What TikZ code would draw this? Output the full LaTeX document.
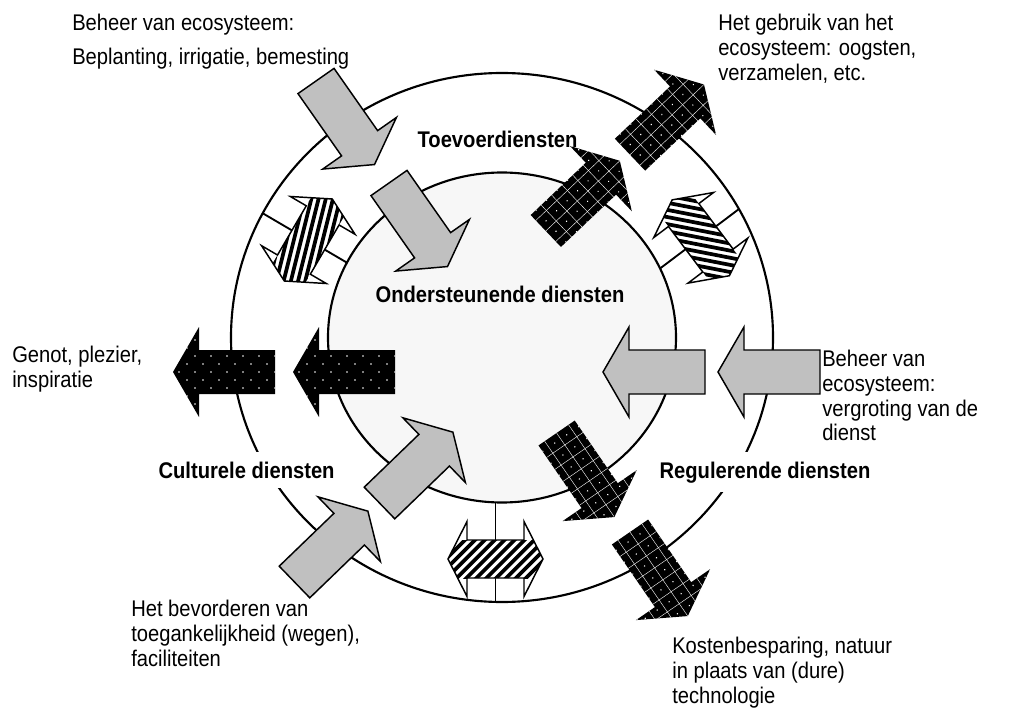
\documentclass[tikz,border=0pt]{standalone}
\usepackage{fontspec}
\setmainfont{Liberation Sans}[FakeStretch=0.89]
\usepackage{tikz}
\usepackage{xcolor}
\definecolor{shade}{RGB}{192,192,192}
\definecolor{core}{RGB}{247,247,247}
\def\arrowpath{(0,-22) -- (76,-22) -- (76,-45) -- (102,0) -- (76,45) -- (76,22) -- (0,22) -- cycle}
\def\swappath{(-47.5,0) -- (-28.5,-37.5) -- (-28.5,-19) -- (28.5,-19) -- (28.5,-37.5) -- (47.5,0) -- (28.5,37.5) -- (28.5,19) -- (-28.5,19) -- (-28.5,37.5) -- cycle}
\tikzset{ring/.style={draw=black, line width=1.6pt},
 link/.style={draw=black, line width=1.4pt},
 note/.style={anchor=north west, inner sep=0pt, align=left, font=\fontsize{17}{18.5}\selectfont},
 title/.style={anchor=base west, inner sep=1pt, font=\fontsize{17}{19}\selectfont\bfseries},
 greyarrow/.pic={\filldraw[fill=shade, draw=black, line width=1.1pt] \arrowpath;},
 dotarrow/.pic={\fill[black] \arrowpath;
   \begin{scope}
   \clip \arrowpath;
   \foreach \y [count=\j] in {-40,-32,...,40}
     \foreach \x in {0,16,...,112}
       \fill[white] ({\x+8*mod(\j,2)},\y) circle (0.8);
   \end{scope}},
 gridarrow/.pic={\fill[black] \arrowpath;
   \begin{scope}
   \clip \arrowpath;
   \foreach \g in {-43.5,-29,...,44} \draw[white, line width=0.3pt] (0,\g) -- (102,\g);
   \foreach \g in {14.5,29,...,99} \draw[white, line width=0.3pt] (\g,-45) -- (\g,45);
   \foreach \x in {7.25,21.75,...,100}
     \foreach \y in {-36.25,-21.75,...,37}
       \fill[white] (\x,\y) circle (0.8);
   \end{scope}},
 pics/swaparrow/.style={code={\fill[white] \swappath;
   \begin{scope}
   \clip \swappath;
   \clip (-50,-19) rectangle (50,19);
   \foreach \s in {-70,-63,...,70}
     \draw[line width=2.8pt, shift={(#1+90:\s)}] (#1:-80) -- (#1:80);
   \end{scope}
   \draw[line width=1.1pt] \swappath;
   \coordinate (-out) at (0,-19);
   \coordinate (-in) at (0,19);}},
 }

\begin{document}
\begin{tikzpicture}[x=0.75pt,y=-0.75pt]
    \useasboundingbox (0,0) rectangle (1010,709);
    \draw[ring, fill=white] (502,337.5) ellipse [x radius=271, y radius=264.5];
    \draw[ring, fill=core] (502,337.5) ellipse [x radius=174, y radius=165];

    \coordinate (rimL-o) at (262.6,213.2);
    \coordinate (rimL-i) at (347,262.7);
    \coordinate (rimR-o) at (739,209);
    \coordinate (rimR-i) at (660,268.5);
    \coordinate (rimB-o) at (495.5,601.9);
    \coordinate (rimB-i) at (495.5,502.4);

    \draw[link] (rimL-o) -- (rimL-i);
    \draw[link] (rimR-o) -- (rimR-i);
    \draw[link] (rimB-o) -- (rimB-i);
    \pic (swapL) [rotate=59.7] at (308.3,240) {swaparrow=-16.3};
    \pic (swapR) [rotate=-53] at (700.8,237.8) {swaparrow=-42};
    \pic (swapB) [rotate=-180] at (495.5,559) {swaparrow=-45};

    \pic[rotate=-55] at (316,81) {greyarrow};
    \pic[rotate=-55] at (389,183) {greyarrow};
    \pic[rotate=-180] at (820,372) {greyarrow};
    \pic[rotate=-180] at (705,372) {greyarrow};
    \pic[rotate=44] at (294.5,582) {greyarrow};
    \pic[rotate=44] at (379.5,503) {greyarrow};

    \pic[rotate=-180] at (275,372) {dotarrow};
    \pic[rotate=-180] at (395,372) {dotarrow};

    \pic[rotate=43.5] at (545.8,231) {gridarrow};
    \pic[rotate=43.5] at (630,154.7) {gridarrow};
    \pic[rotate=-55.5] at (556.6,433) {gridarrow};
    \pic[rotate=-55.5] at (630,532) {gridarrow};

    \node[title] (supply) at (416,148) {Toevoerdiensten};
    \node[title, anchor=base] (support) at (500,302) {Ondersteunende diensten};
    \node[title, fill=white, inner ysep=7pt] (culture) at (157,478) {Culturele diensten};
    \node[title, fill=white, inner ysep=7pt] (regulate) at (658,478) {Regulerende diensten};

    \node[note] (manage) at (72,14) {Beheer van ecosysteem:\\[7pt]Beplanting, irrigatie, bemesting};
    \node[note] (harvest) at (718,14) {Het gebruik van het\\ecosysteem: oogsten,\\verzamelen, etc.};
    \node[note] (enjoy) at (12,346) {Genot, plezier,\\inspiratie};
    \node[note] (boost) at (822,350) {Beheer van\\ecosysteem:\\vergroting van de\\dienst};
    \node[note] (access) at (131,600) {Het bevorderen van\\toegankelijkheid (wegen),\\faciliteiten};
    \node[note] (saving) at (672,637) {Kostenbesparing, natuur\\in plaats van (dure)\\technologie};
\end{tikzpicture}
\end{document}
